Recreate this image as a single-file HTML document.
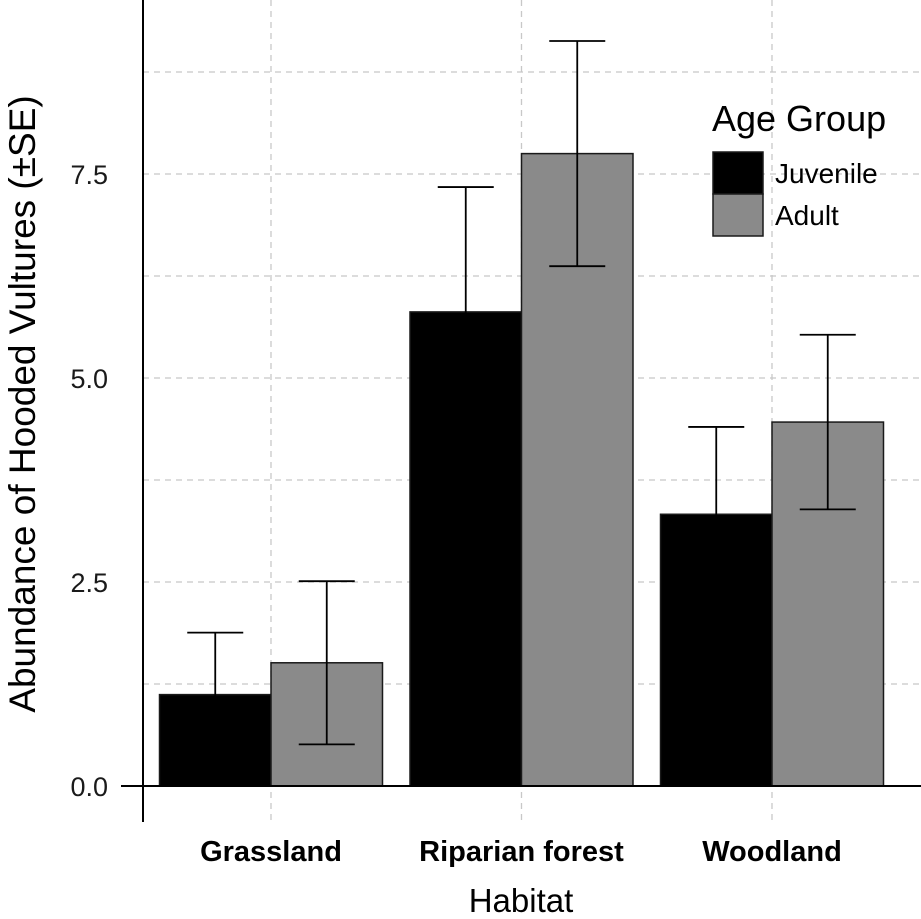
<!DOCTYPE html>
<html><head><meta charset="utf-8"><style>
html,body{margin:0;padding:0;background:#fff;}
svg{display:block;font-family:"Liberation Sans",Arial,sans-serif;}
</style></head><body>
<svg id="chart" width="921" height="919"></svg>
<script>
const categories = ["Grassland", "Riparian forest", "Woodland"];
const groups = ["Juvenile", "Adult"];
const juvenileValues = [1.12, 5.81, 3.33];
const adultValues = [1.51, 7.75, 4.46];
const juvenileSE = [0.76, 1.53, 1.07];
const adultSE = [1.0, 1.38, 1.07];
const yTicks = [0, 2.5, 5, 7.5];
const yTickLabels = ["0.0", "2.5", "5.0", "7.5"];
const yMinor = [1.25, 3.75, 6.25, 8.75];

const NS = "http://www.w3.org/2000/svg";
const svg = document.getElementById("chart");
const y = v => 786 - v * 81.6;
const xc = i => 271 + i * 250.5;
const bw = 111.5;
const colors = ["#000000", "#8a8a8a"];
function mk(tag, attrs, parent) {
  const e = document.createElementNS(NS, tag);
  for (const k in attrs) e.setAttribute(k, attrs[k]);
  (parent || svg).appendChild(e);
  return e;
}
yMinor.concat(yTicks.slice(1)).forEach(v => {
  const l = mk("line", {x1: 143, x2: 921, y1: y(v), y2: y(v), stroke: "#c8c8c8", "stroke-width": 1.3, "stroke-dasharray": "6,5"});
  
  
});
categories.forEach((c, i) => {
  const l = mk("line", {x1: xc(i), x2: xc(i), y1: 0, y2: 822, stroke: "#c8c8c8", "stroke-width": 1.3, "stroke-dasharray": "6,5"});
  
  
});
const series = [juvenileValues, adultValues];
const ses = [juvenileSE, adultSE];
categories.forEach((c, i) => {
  series.forEach((vals, g) => {
    const x0 = xc(i) - bw + g * bw;
    const r = mk("rect", {x: x0, y: y(vals[i]), width: bw, height: y(0) - y(vals[i]), fill: colors[g], stroke: "#1a1a1a", "stroke-width": 1.5});
    
    
  });
});
categories.forEach((c, i) => {
  series.forEach((vals, g) => {
    const cx = xc(i) - bw / 2 + g * bw;
    const hi = y(vals[i] + ses[g][i]), lo = y(vals[i] - ses[g][i]);
    const eg = mk("g", {stroke: "#000", "stroke-width": 1.8, fill: "none"});
    
    
    mk("line", {x1: cx, x2: cx, y1: hi, y2: lo}, eg);
    mk("line", {x1: cx - 28, x2: cx + 28, y1: hi, y2: hi}, eg);
    mk("line", {x1: cx - 28, x2: cx + 28, y1: lo, y2: lo}, eg);
  });
});
let a = mk("line", {x1: 143, x2: 143, y1: 0, y2: 822, stroke: "#000", "stroke-width": 2});
 
a = mk("line", {x1: 121, x2: 921, y1: 786, y2: 786, stroke: "#000", "stroke-width": 2});
 
yTicks.forEach((v, i) => {
  const t = mk("text", {x: 108, y: y(v) + 10, "text-anchor": "end", "font-size": 27, fill: "#1a1a1a"});
  t.textContent = yTickLabels[i];
  
  
});
categories.forEach((c, i) => {
  const t = mk("text", {x: xc(i), y: 861, "text-anchor": "middle", "font-size": 29, "font-weight": "bold", fill: "#000"});
  t.textContent = c;
  
  
});
let t = mk("text", {x: 521, y: 912, "text-anchor": "middle", "font-size": 33, fill: "#000"});
t.textContent = "Habitat";
 
t = mk("text", {x: 0, y: 0, transform: "translate(35,404) rotate(-90)", "text-anchor": "middle", "font-size": 37, fill: "#000"});
t.textContent = "Abundance of Hooded Vultures (±SE)";
 
const lg = mk("g", {});
 
t = mk("text", {x: 712, y: 131, "font-size": 36, fill: "#000"}, lg);
t.textContent = "Age Group";
 
groups.forEach((g, i) => {
  const r = mk("rect", {x: 713, y: 152 + i * 42, width: 50, height: 42, fill: colors[i], stroke: "#1a1a1a", "stroke-width": 1.5}, lg);
   
  const tx = mk("text", {x: 775, y: 183 + i * 42, "font-size": 28, fill: "#000"}, lg);
  tx.textContent = g;
   
});
</script>
</body></html>
